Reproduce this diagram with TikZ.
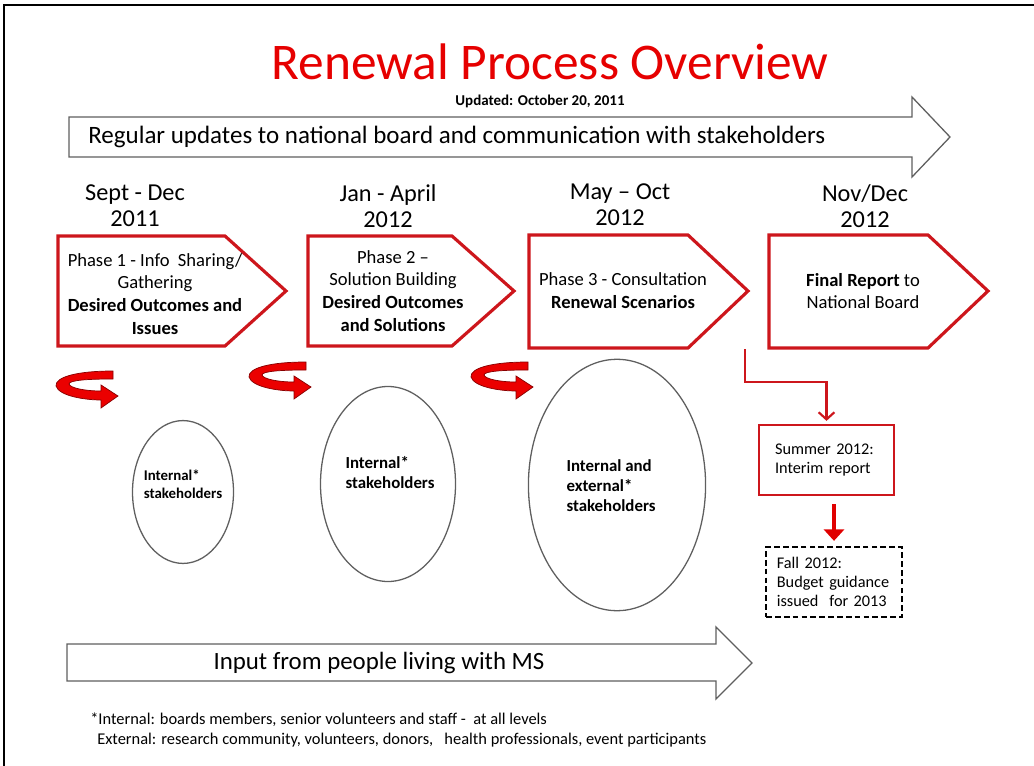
\documentclass[tikz,border=0pt]{standalone}
\usepackage{fontspec}
\setmainfont{Carlito}
\usetikzlibrary{arrows.meta,shapes.geometric}

\definecolor{msred}{RGB}{230,0,0}
\definecolor{boxred}{RGB}{205,22,28}
\definecolor{swirldark}{RGB}{135,0,0}
\definecolor{outline}{RGB}{95,95,95}

\begin{document}
\begin{tikzpicture}[
    x=0.7pt, y=-0.7pt,
    band/.style={draw=outline, line width=0.9pt, fill=white, line join=miter},
    phase/.style={draw=boxred, line width=2.2pt, line join=miter},
    phasetext/.style={align=center, inner sep=0pt, font=\fontsize{13}{16}\selectfont},
    when/.style={align=center, inner sep=0pt, font=\fontsize{17}{18}\selectfont},
    stake/.style={ellipse, draw=outline, line width=0.9pt, inner sep=0pt},
    staketext/.style={align=left, inner sep=0pt, font=\bfseries\fontsize{11.8}{14}\selectfont},
    swirl/.style={fill=red!92!black, draw=swirldark, line width=0.5pt},
    report/.style={rectangle, align=left, minimum height=49pt, font=\fontsize{11.4}{13.5}\selectfont},
    link/.style={draw=boxred, line width=1.5pt, -{Straight Barb[length=5pt,width=11pt]}},
    push/.style={draw=red!88!black, line width=2.8pt, -{Triangle[length=8pt,width=14pt]}},
    note/.style={anchor=west, inner sep=0pt, font=\fontsize{11.5}{13}\selectfont}
  ]
  \useasboundingbox (0,0) rectangle (1034,766);

  % slide frame
  \draw[line width=1.4pt] (4,766) -- (4,5) -- (1034,5);

  % heading
  \node (title) [text=msred, inner sep=0pt, font=\fontsize{36}{40}\selectfont] at (550,62) {Renewal Process Overview};
  \node (updated) [inner sep=0pt, font=\bfseries\fontsize{10.5}{12}\selectfont] at (540,101) {Updated: October 20, 2011};

  % long bands
  \draw[band] (69,117) -- (912,117) -- (912,97) -- (950,137) -- (912,177) -- (912,157) -- (69,157) -- cycle;
  \node (board) [anchor=west, inner sep=0pt, font=\fontsize{17.5}{20}\selectfont] at (88,137) {Regular updates to national board and communication with stakeholders};
  \draw[band] (67,644) -- (716,644) -- (716,627) -- (752,663) -- (716,699) -- (716,681) -- (67,681) -- cycle;
  \node (input) [inner sep=0pt, font=\fontsize{17.4}{20}\selectfont] at (379,663) {Input from people living with MS};

  % time frames
  \node (t1) [when] at (135,206) {Sept - Dec\\2011};
  \node (t2) [when] at (388,206) {Jan - April\\2012};
  \node (t3) [when] at (620,205) {May -- Oct\\2012};
  \node (t4) [when] at (865,206) {Nov/Dec\\2012};

  % phases
  \draw[phase] (58,236) -- (225,236) -- (286,291) -- (225,346) -- (58,346) -- cycle;
  \draw[phase] (308,236) -- (452,236) -- (514,291) -- (452,346) -- (308,346) -- cycle;
  \draw[phase] (529,235) -- (688,235) -- (748,291) -- (688,348) -- (529,348) -- cycle;
  \draw[phase] (769,235) -- (928,235) -- (988,291) -- (928,348) -- (769,348) -- cycle;
  \node (p1) [phasetext] at (155,294) {Phase 1 - Info~ Sharing/\\Gathering\\\textbf{Desired Outcomes and}\\\textbf{Issues}};
  \node (p2) [phasetext] at (393,291) {Phase 2 --\\Solution Building\\\textbf{Desired Outcomes}\\\textbf{and Solutions}};
  \node (p3) [phasetext] at (623,291) {Phase 3 - Consultation\\\textbf{Renewal Scenarios}};
  \node (p4) [phasetext] at (863,291) {\textbf{Final Report} to\\National Board};

  % turning arrows
  \foreach \sx/\sy in {55/371, 248/362, 470/362}
    \filldraw[swirl, shift={(\sx,\sy)}] (58,0) .. controls (22,0) and (0,6) .. (1,15)
      .. controls (4,25) and (30,29) .. (46,29) -- (46,37) -- (63,25) -- (46,14) -- (46,20)
      .. controls (30,20) and (15,17) .. (14,13) .. controls (14,9) and (35,8) .. (58,8) -- cycle;

  % who is consulted
  \node (e1) [stake, minimum width=70.7pt, minimum height=100pt] at (183,492) {};
  \node (e2) [stake, minimum width=94.5pt, minimum height=136.5pt] at (388,484) {};
  \node (e3) [stake, minimum width=124pt, minimum height=176pt] at (617,485) {};
  \node (s1) [staketext, font=\bfseries\fontsize{10.4}{12.5}\selectfont] at (183,484) {Internal*\\stakeholders};
  \node (s2) [staketext] at (390,473) {Internal*\\stakeholders};
  \node (s3) [staketext] at (611,486) {Internal and\\external*\\stakeholders};

  % interim reporting
  \node (summer) [report, draw=boxred, line width=1.8pt, minimum width=94.5pt, text width=72pt, inner xsep=11.25pt] at (826.5,460) {Summer 2012:\\Interim report};
  \node (fall) [report, draw, dashed, dash pattern=on 4pt off 2.2pt, line width=1.6pt, minimum width=95pt, text width=80pt, inner xsep=7.5pt] at (834,582) {Fall 2012:\\Budget guidance\\issued~ for 2013};
  \coordinate (split) at (745,349);
  \draw[link] (split) -- ++(0,33) -| ([yshift=2pt]summer.north);
  \draw[push, shorten <=5.6pt, shorten >=3.5pt] (summer.south -| fall.north) -- (fall.north);

  % footnote
  \node (n1) [note] at (90,720) {*Internal: boards members, senior volunteers and staff -~ at all levels};
  \node (n2) [note] at (97,740) {External: research community, volunteers, donors,~~ health professionals, event participants};
\end{tikzpicture}
\end{document}
